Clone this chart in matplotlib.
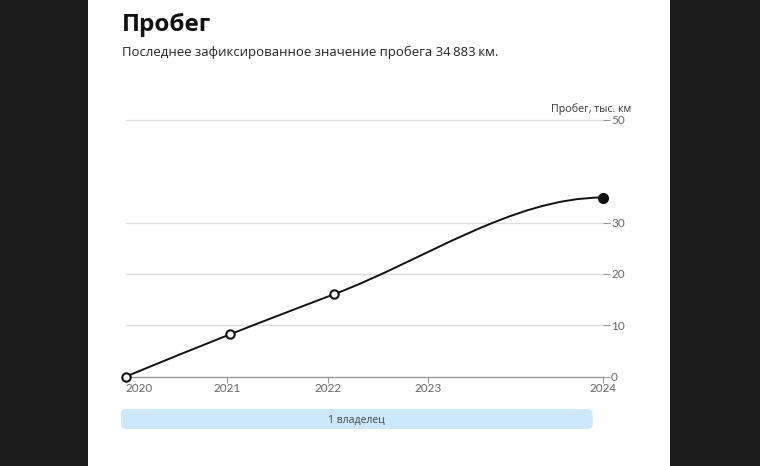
import numpy as np
import matplotlib.pyplot as plt
from matplotlib.path import Path
from matplotlib.patches import PathPatch, FancyBboxPatch, Rectangle

# данные пробега (годы дробные, пробег в тыс. км)
years = [2020.0, 2021.03, 2022.06, 2024.73]
mileage = [0.0, 8.2, 16.0, 34.883]
marked = [0, 1, 2]  # точки с пустыми кружками
last_idx = 3

x_ticks = [2020.0, 2021, 2022, 2023, 2024.73]
x_labels = ['2020', '2021', '2022', '2023', '2024']
y_ticks = [0, 10, 20, 30, 50]

owners = ['1 владелец']
owner_start = [2019.95]
owner_end = [2024.63]

title = 'Пробег'
subtitle = 'Последнее зафиксированное значение пробега 34\u202f883\u202fкм.'


def monotone_path(xs, ys):
    # гладкая кривая (monotoneX), в последней точке касательная горизонтальная
    xs = np.asarray(xs, float)
    ys = np.asarray(ys, float)
    h = np.diff(xs)
    s = np.diff(ys) / h
    n = len(xs)
    t = np.zeros(n)
    for i in range(1, n - 1):
        p = (s[i - 1] * h[i] + s[i] * h[i - 1]) / (h[i - 1] + h[i])
        t[i] = (np.sign(s[i - 1]) + np.sign(s[i])) * min(abs(s[i - 1]), abs(s[i]), 0.5 * abs(p))
    t[0] = (3 * s[0] - t[1]) / 2
    t[-1] = 0.0
    verts = [(xs[0], ys[0])]
    codes = [Path.MOVETO]
    for i in range(n - 1):
        dx = h[i] / 3
        verts += [(xs[i] + dx, ys[i] + dx * t[i]),
                  (xs[i + 1] - dx, ys[i + 1] - dx * t[i + 1]),
                  (xs[i + 1], ys[i + 1])]
        codes += [Path.CURVE4] * 3
    return Path(verts, codes)


fig = plt.figure(figsize=(7.6, 4.66), dpi=100)
fig.patch.set_facecolor('#1c1c1c')
fig.patches.append(Rectangle((88 / 760, 0), (670 - 88) / 760, 1, transform=fig.transFigure,
                             facecolor='white', edgecolor='none', zorder=-5))

fig.text(122 / 760, 1 - 31 / 466, title, fontsize=17.5, fontweight='bold',
         family=['Open Sans', 'DejaVu Sans'], color='#111111')
fig.text(122 / 760, 1 - 56 / 466, subtitle, fontsize=9.45,
         family=['Open Sans', 'DejaVu Sans'], color='#222222')

W, H = 760, 466
left, right, top, bottom = 126, 602.7, 120, 376.5
ax = fig.add_axes([left / W, 1 - bottom / H, (right - left) / W, (bottom - top) / H])
ax.set_facecolor('none')
ax.set_xlim(x_ticks[0], x_ticks[-1])
ax.set_ylim(0, 50)

for v in y_ticks[1:]:
    ax.axhline(v, color='#dddddd', lw=1, zorder=1, clip_on=False)
ax.axhline(0, color='#999999', lw=1, zorder=1, clip_on=False)

ax.add_patch(PathPatch(monotone_path(years, mileage), facecolor='none',
                       edgecolor='#111111', lw=1.4, zorder=3, clip_on=False))
ax.plot([years[i] for i in marked], [mileage[i] for i in marked], 'o', ms=6,
        mfc='white', mec='#111111', mew=1.5, zorder=4, clip_on=False)
ax.plot(years[last_idx], mileage[last_idx], 'o', ms=7, color='#111111',
        zorder=4, clip_on=False)

for sp in ax.spines.values():
    sp.set_visible(False)
ax.yaxis.tick_right()
ax.set_yticks(y_ticks)
ax.set_yticklabels([str(v) for v in y_ticks])
ax.tick_params(axis='y', length=5, width=0.8, color='#999999', labelcolor='#666666',
               labelsize=8.5, pad=1)
ax.set_xticks(x_ticks)
ax.set_xticklabels(x_labels)
ax.tick_params(axis='x', length=4, width=0.8, color='#999999', labelcolor='#666666',
               labelsize=8.5, pad=1)
ax.get_xticklabels()[0].set_horizontalalignment('left')
for lab in ax.get_xticklabels() + ax.get_yticklabels():
    lab.set_family(['Lato', 'DejaVu Sans'])
ax.text(1.06, 1.02, 'Пробег, тыс. км', transform=ax.transAxes, ha='right', va='bottom',
        fontsize=7.7, color='#333333', family=['Open Sans', 'DejaVu Sans'])

# полоса владельцев
bx = fig.add_axes([left / W, 1 - 429 / H, (right - left) / W, 20 / H])
bx.set_xlim(x_ticks[0], x_ticks[-1])
bx.set_ylim(0, 1)
bx.axis('off')
px_per_x = (right - left) / (x_ticks[-1] - x_ticks[0])
px_per_y = 20
aspect = px_per_x / px_per_y
for name, s0, s1 in zip(owners, owner_start, owner_end):
    bx.add_patch(FancyBboxPatch((s0, 0), s1 - s0, 1, boxstyle='round,pad=0,rounding_size=0.05',
                                mutation_aspect=aspect, facecolor='#cce9fb', edgecolor='none',
                                clip_on=False))
    bx.text((s0 + s1) / 2, 0.45, name, ha='center', va='center', fontsize=7.5,
            color='#444444', family=['Open Sans', 'DejaVu Sans'])

fig.savefig('out.png', dpi=100, facecolor=fig.get_facecolor())
